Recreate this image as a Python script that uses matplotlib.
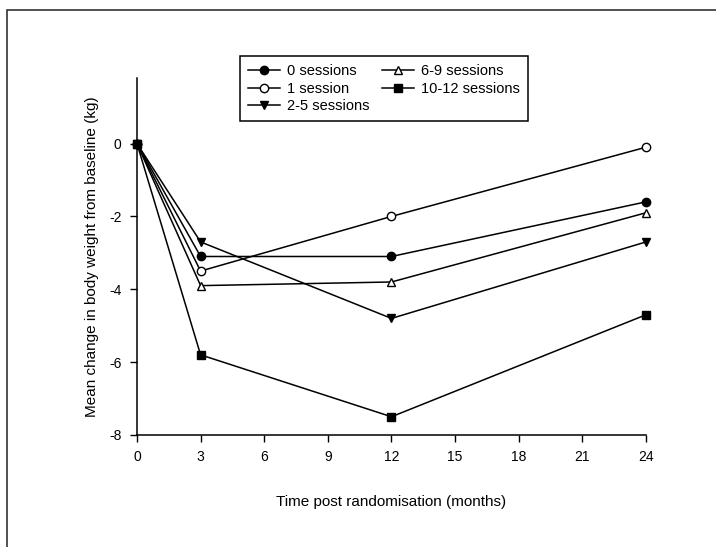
import matplotlib
matplotlib.use("Agg")
import matplotlib.pyplot as plt
from matplotlib.patches import Rectangle

plt.rcParams['font.family'] = ['Liberation Sans', 'DejaVu Sans']
plt.rcParams['axes.unicode_minus'] = False

# Months post randomisation
months = [0, 3, 12, 24]

# Mean change in body weight (kg) per attendance group
sessions_0 = [0, -3.1, -3.1, -1.6]
sessions_1 = [0, -3.5, -2.0, -0.1]
sessions_2_5 = [0, -2.7, -4.8, -2.7]
sessions_6_9 = [0, -3.9, -3.8, -1.9]
sessions_10_12 = [0, -5.8, -7.5, -4.7]

labels = ['0 sessions', '1 session', '2-5 sessions', '6-9 sessions', '10-12 sessions']
x_ticks = [0, 3, 6, 9, 12, 15, 18, 21, 24]
y_ticks = [0, -2, -4, -6, -8]

fig = plt.figure(figsize=(7.16, 5.47), dpi=100)
ax = fig.add_axes([0.1913, 0.2048, 0.7109, 0.6526])

# thin frame round the whole figure (clipped on right/bottom like the source)
fig.patches.append(Rectangle((7 / 716, -0.05), 1.2, 1 - 10 / 547 + 0.05,
                             transform=fig.transFigure, fill=False,
                             edgecolor='#333333', linewidth=1.2))

series = [
    (sessions_0, 'o', 'black'),
    (sessions_1, 'o', 'white'),
    (sessions_2_5, 'v', 'black'),
    (sessions_6_9, '^', 'white'),
    (sessions_10_12, 's', 'black'),
]
for (vals, marker, face), label in zip(series, labels):
    ax.plot(months, vals, color='black', linewidth=1.1, marker=marker,
            markersize=6, markerfacecolor=face, markeredgecolor='black',
            markeredgewidth=1.0, label=label, clip_on=False, zorder=3)

ax.set_xlim(0, 24)
ax.set_ylim(-8, 1.8)
ax.set_xticks(x_ticks)
ax.set_yticks(y_ticks)
ax.tick_params(direction='out', length=5, width=1, labelsize=10, pad=6)
ax.spines['top'].set_visible(False)
ax.spines['right'].set_visible(False)
ax.spines['left'].set_linewidth(1.1)
ax.spines['bottom'].set_linewidth(1.1)

ax.set_xlabel('Time post randomisation (months)', fontsize=11, labelpad=22)
ax.set_ylabel('Mean change in body weight from baseline (kg)', fontsize=11, labelpad=7)

leg = ax.legend(ncol=2, loc='upper left', bbox_to_anchor=(0.2024, 1.0616),
                borderaxespad=0, fancybox=False, edgecolor='black',
                fontsize=10.5, handlelength=2.2, columnspacing=0.8,
                labelspacing=0.25, handletextpad=0.5, borderpad=0.55,
                framealpha=1)
leg.get_frame().set_linewidth(1.1)

fig.savefig('out.png', dpi=100)
